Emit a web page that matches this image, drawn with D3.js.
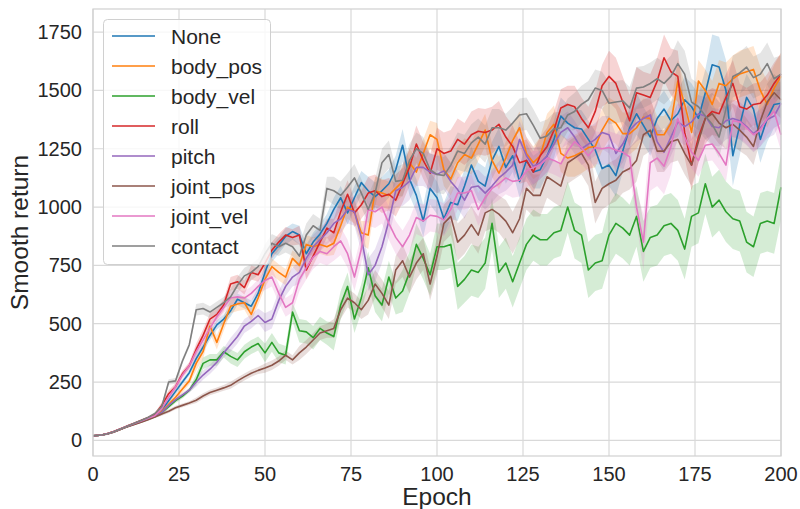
<!DOCTYPE html>
<html>
<head>
<meta charset="utf-8">
<script src="https://cdn.jsdelivr.net/npm/d3@7"></script>
<style>
  body { margin: 0; background: #fff; }
  svg text { font-family: "Liberation Sans", Arial, sans-serif; fill: #262626; }
</style>
</head>
<body>
<div id="chart"></div>
<script>
// epochs sampled every 2 (0..200)
var epochs = d3.range(0, 201, 2);
var xTicks = [0, 25, 50, 75, 100, 125, 150, 175, 200];
var yTicks = [0, 250, 500, 750, 1000, 1250, 1500, 1750];

var names = ["None", "body_pos", "body_vel", "roll", "pitch", "joint_pos", "joint_vel", "contact"];
var colors = ["#1f77b4", "#ff7f0e", "#2ca02c", "#d62728", "#9467bd", "#8c564b", "#e377c2", "#7f7f7f"];

var noneVals = [20,22,27,37,49,61,72,84,96,108,
  130,170,210,250,290,350,400,450,495,520,
  555,605,590,575,630,720,800,835,875,895,
  880,800,850,885,930,990,1040,975,1040,1105,
  1070,1045,1070,1100,1160,1265,1120,1050,940,1080,
  1040,950,1020,1010,1090,1180,1110,1090,1200,1260,
  1170,1220,1110,1200,1150,1160,1220,1290,1390,1360,
  1340,1335,1290,1245,1165,1180,1135,1240,1340,1400,
  1350,1300,1380,1420,1370,1400,1460,1430,1380,1490,
  1610,1600,1500,1220,1350,1470,1420,1290,1380,1440,1445];
var bodyPosVals = [20,22,27,37,48,60,71,83,95,106,
  125,155,185,220,255,330,380,490,420,500,
  575,585,590,540,610,690,745,720,700,780,
  750,840,830,840,830,845,920,1000,980,890,
  880,1070,1060,1050,1080,1110,1190,1150,1230,1310,
  1290,1160,1120,1190,1225,1210,1270,1330,1200,1145,
  1210,1285,1340,1230,1190,1220,1320,1355,1230,1210,
  1220,1235,1255,1260,1330,1380,1360,1315,1315,1340,
  1385,1380,1310,1310,1360,1540,1440,1320,1540,1500,
  1440,1530,1520,1550,1570,1580,1590,1500,1440,1510,1560];
var bodyVelVals = [20,22,27,36,48,59,70,80,91,102,
  120,145,170,190,215,260,330,345,345,380,
  360,345,380,400,415,375,420,375,365,550,
  470,465,440,480,460,445,580,660,520,610,
  740,620,580,700,610,640,720,840,780,710,
  830,830,840,660,690,730,720,760,930,720,
  760,680,760,840,880,860,860,890,900,1000,
  900,880,730,760,770,880,930,910,880,960,
  810,870,880,920,930,900,820,960,975,1100,
  1000,1030,980,950,940,850,830,930,940,930,1085];
var rollVals = [20,22,28,38,50,62,73,85,97,112,
  150,200,230,285,320,390,450,520,540,580,
  670,680,655,720,710,760,815,850,880,870,
  880,730,790,850,910,890,980,1055,975,1010,
  1060,1070,1045,1055,1030,1100,1170,1270,1200,1145,
  1250,1230,1240,1290,1270,1310,1325,1320,1330,1355,
  1300,1260,1190,1200,1150,1220,1260,1330,1425,1440,
  1430,1380,1340,1410,1520,1560,1530,1450,1370,1490,
  1480,1470,1540,1640,1580,1560,1320,1180,1300,1380,
  1410,1400,1470,1530,1430,1420,1440,1445,1480,1530,1570];
var pitchVals = [20,22,27,36,48,60,70,81,92,102,
  120,150,175,195,215,250,280,305,335,375,
  410,445,490,510,535,505,520,600,660,700,
  720,780,830,860,890,930,950,990,980,870,
  710,750,830,940,1070,1085,1110,1170,1170,1150,
  1140,1155,1110,1075,1030,1085,1090,1060,1090,1125,
  1150,1180,1290,1220,1175,1190,1220,1270,1320,1340,
  1300,1250,1270,1290,1320,1310,1230,1270,1330,1360,
  1380,1395,1280,1235,1300,1365,1345,1365,1400,1390,
  1345,1340,1370,1380,1370,1345,1315,1340,1375,1390,1445];
var jointPosVals = [20,22,26,35,47,58,68,78,88,100,
  113,125,140,150,160,172,190,205,215,225,
  236,255,272,288,300,310,322,340,365,345,
  375,400,430,460,470,480,560,610,590,560,
  600,670,630,580,730,770,700,760,800,670,
  790,930,960,850,880,925,880,975,990,970,
  940,890,950,1080,1050,1050,1130,1110,1090,1190,
  1210,1230,1180,1020,1080,1100,1115,1150,1165,1200,
  1310,1330,1240,1240,1280,1290,1230,1180,1280,1380,
  1400,1360,1340,1355,1330,1300,1260,1370,1450,1490,1460];
var jointVelVals = [20,22,27,37,49,60,72,83,95,106,
  135,185,230,280,320,380,430,480,530,570,
  610,615,610,630,660,685,700,630,570,590,
  690,740,785,810,800,830,855,800,700,820,
  990,980,1000,930,870,830,880,955,940,965,
  960,945,990,1060,1060,1070,990,1040,1080,1100,
  1125,1110,1115,1155,1170,1180,1210,1200,1185,1240,
  1280,1255,1220,1255,1250,1255,1245,1235,1215,1000,
  850,1190,1210,1175,1260,1380,1300,1235,1200,1265,
  1270,1230,1180,1370,1365,1340,1310,1330,1380,1410,1310];
var contactVals = [20,22,27,37,49,61,73,85,98,115,
  145,250,255,340,410,560,565,550,570,590,
  615,665,705,720,745,800,845,830,845,830,
  790,880,920,900,1080,1070,1050,1085,1125,1060,
  990,1060,1190,1225,1110,1115,1200,1250,1230,1160,
  1140,1135,1180,1240,1230,1275,1300,1270,1340,1340,
  1330,1360,1395,1400,1350,1295,1305,1335,1340,1395,
  1410,1440,1460,1510,1500,1445,1450,1455,1425,1510,
  1515,1530,1550,1530,1560,1615,1570,1450,1430,1390,
  1355,1300,1420,1560,1575,1600,1555,1570,1615,1550,1570];

// half width of the shaded band, one value per 10 epochs (0..200)
var noneSpread =     [3,5,12,20,25,35,40,50,60,70,70,80,70,80,80,90,80,100,130,100,90];
var bodyPosSpread =  [3,5,15,30,30,35,40,50,60,60,70,70,70,80,90,90,80,90,100,100,100];
var bodyVelSpread =  [2,4,10,25,30,40,50,60,70,90,100,110,110,110,120,130,130,130,130,130,140];
var rollSpread =     [3,5,15,25,30,35,40,60,70,80,90,100,90,80,90,110,100,110,100,90,90];
var pitchSpread =    [3,5,10,20,30,40,50,60,70,80,80,70,80,70,70,80,80,80,80,80,80];
var jointPosSpread = [2,4,8,12,15,20,30,40,60,70,80,80,90,90,90,90,90,90,90,80,80];
var jointVelSpread = [3,5,15,25,30,40,50,60,70,70,70,70,70,60,70,70,120,70,70,70,70];
var contactSpread =  [3,5,12,25,35,40,50,60,60,70,80,80,70,70,80,90,90,100,90,90,80];

var seriesVals = [noneVals, bodyPosVals, bodyVelVals, rollVals, pitchVals, jointPosVals, jointVelVals, contactVals];
var seriesSpread = [noneSpread, bodyPosSpread, bodyVelSpread, rollSpread, pitchSpread, jointPosSpread, jointVelSpread, contactSpread];

const w = 800, h = 509;
const m = {left: 93, right: 19, top: 9, bottom: 53};

const x = d3.scaleLinear().domain([0, 200]).range([m.left, w - m.right]);
const y = d3.scaleLinear().domain([-67, 1849]).range([h - m.bottom, m.top]);

const svg = d3.select("#chart").append("svg")
  .attr("width", w).attr("height", h);

// grid
svg.append("g").selectAll("line").data(xTicks).enter().append("line")
  .attr("x1", d => x(d)).attr("x2", d => x(d))
  .attr("y1", m.top).attr("y2", h - m.bottom)
  .attr("stroke", "#d9d9d9").attr("stroke-width", 1.2);
svg.append("g").selectAll("line").data(yTicks).enter().append("line")
  .attr("x1", m.left).attr("x2", w - m.right)
  .attr("y1", d => y(d)).attr("y2", d => y(d))
  .attr("stroke", "#d9d9d9").attr("stroke-width", 1.2);

var data = names.map(function(n, k) {
  return epochs.map(function(e, i) {
    var s = seriesSpread[k][Math.min(20, Math.floor(e / 10))];
    return {e: e, v: seriesVals[k][i], s: s};
  });
});

const area = d3.area()
  .x(d => x(d.e))
  .y0(d => y(d.v - d.s))
  .y1(d => y(d.v + d.s));
const line = d3.line()
  .x(d => x(d.e))
  .y(d => y(d.v));

const plot = svg.append("g");
data.forEach(function(d, k) {
  plot.append("path").attr("d", area(d))
    .attr("fill", colors[k]).attr("fill-opacity", 0.2);
});
data.forEach(function(d, k) {
  plot.append("path").attr("d", line(d))
    .attr("fill", "none").attr("stroke", colors[k])
    .attr("stroke-width", 1.6).attr("stroke-linejoin", "round");
});

// frame
svg.append("rect")
  .attr("x", m.left).attr("y", m.top)
  .attr("width", w - m.left - m.right).attr("height", h - m.top - m.bottom)
  .attr("fill", "none").attr("stroke", "#d0d0d0").attr("stroke-width", 1.2);

// tick labels
svg.append("g").selectAll("text").data(xTicks).enter().append("text")
  .attr("x", d => x(d)).attr("y", 481)
  .attr("text-anchor", "middle").style("font-size", "20px")
  .text(d => d);
svg.append("g").selectAll("text").data(yTicks).enter().append("text")
  .attr("x", 82).attr("y", d => y(d) + 7)
  .attr("text-anchor", "end").style("font-size", "20px")
  .text(d => d);

// axis labels
svg.append("text")
  .attr("x", (m.left + w - m.right) / 2).attr("y", 505)
  .attr("text-anchor", "middle").style("font-size", "24.5px")
  .text("Epoch");
svg.append("text")
  .attr("transform", "translate(28," + ((m.top + h - m.bottom) / 2) + ") rotate(-90)")
  .attr("text-anchor", "middle").style("font-size", "24.5px")
  .text("Smooth return");

// legend
const lg = svg.append("g");
lg.append("rect")
  .attr("x", 103.5).attr("y", 19.5).attr("width", 167).attr("height", 245)
  .attr("rx", 4).attr("fill", "#fff").attr("fill-opacity", 0.8)
  .attr("stroke", "#d0d0d0").attr("stroke-width", 1);
names.forEach(function(n, k) {
  var yy = 36 + k * 30;
  lg.append("line").attr("x1", 112).attr("x2", 155)
    .attr("y1", yy).attr("y2", yy)
    .attr("stroke", colors[k]).attr("stroke-width", 1.6);
  lg.append("text").attr("x", 171).attr("y", yy + 7.5)
    .style("font-size", "21px").text(n);
});
</script>
</body>
</html>
